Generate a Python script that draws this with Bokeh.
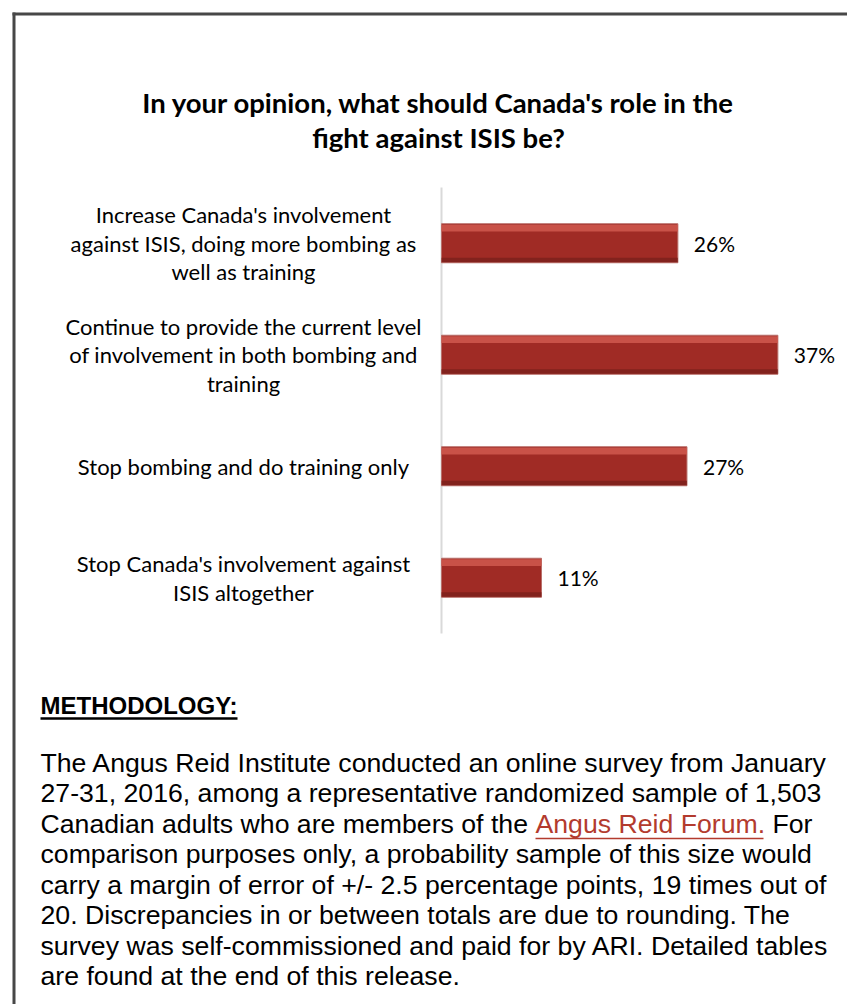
from bokeh.plotting import figure
from bokeh.models import (ColumnDataSource, Range1d, LabelSet, Label)
from bokeh.core.properties import value
from bokeh.transform import dodge
from bokeh.embed import file_html
from bokeh.resources import INLINE

# ---- data ----
categories = [
    "Increase Canada's involvement\nagainst ISIS, doing more bombing as\nwell as training",
    "Continue to provide the current level\nof involvement in both bombing and\ntraining",
    "Stop bombing and do training only",
    "Stop Canada's involvement against\nISIS altogether",
]
values = [26, 37, 27, 11]
value_labels = ["26%", "37%", "27%", "11%"]

title_lines = ["In your opinion, what should Canada's role in the",
               "fight against ISIS be?"]
method_heading = "METHODOLOGY:"
method_lines = [
    "The Angus Reid Institute conducted an online survey from January",
    "27-31, 2016, among a representative randomized sample of 1,503",
    "Canadian adults who are members of the ",
    "comparison purposes only, a probability sample of this size would",
    "carry a margin of error of +/- 2.5 percentage points, 19 times out of",
    "20. Discrepancies in or between totals are due to rounding. The",
    "survey was self-commissioned and paid for by ARI. Detailed tables",
    "are found at the end of this release.",
]
link_text = "Angus Reid Forum."
after_link = "For"

LABEL_FONT = "Lato"
BODY_FONT = "Liberation Sans"

W, H = 847, 1004
AXIS_X = 441          # pixel position of the value axis
PX_PER_UNIT = 400 / 44
ROW_PX = 111.5        # pixel height of one category row
ROW0_PX = 242.75      # pixel centre of first category
LINE_PX = 28.5        # line spacing of category labels

n = len(categories)
src = ColumnDataSource(dict(idx=list(range(n)), cat=categories, val=values,
                            lab=value_labels, zero=[0] * n))

# one row per line of each category label, centred line by line
li_idx, li_text, li_dy = [], [], []
for i, c in enumerate(categories):
    parts = c.split("\n")
    k = len(parts)
    for j, t in enumerate(parts):
        li_idx.append(i)
        li_text.append(t)
        li_dy.append(-(j - (k - 1) / 2) * LINE_PX)
line_src = ColumnDataSource(dict(idx=li_idx, text=li_text, dy=li_dy,
                                 zero=[0] * len(li_idx)))

x_range = Range1d(-AXIS_X / PX_PER_UNIT, (W - AXIS_X) / PX_PER_UNIT)
y_range = Range1d((H - ROW0_PX) / ROW_PX, -ROW0_PX / ROW_PX)

p = figure(width=W, height=H, output_backend="svg", toolbar_location=None,
           x_range=x_range, y_range=y_range, min_border=0)
p.extra_x_ranges = {"px": Range1d(0, W)}
p.extra_y_ranges = {"py": Range1d(H, 0)}
p.axis.visible = False
p.grid.visible = False
p.outline_line_color = None

# value axis line
p.segment(x0=[0], x1=[0], y0=[-0.5], y1=[n - 0.5], line_color="#D9D9D9", line_width=2)

# bars (main body + bevel highlights)
p.hbar(y="idx", left="zero", right="val", height=0.35, source=src,
       fill_color="#A02B25", line_color="#B9706B", line_width=1)
p.hbar(y=dodge("idx", -0.135), left="zero", right="val",
       height=0.06, source=src, fill_color="#D0594F", line_color=None, fill_alpha=0.85)
p.hbar(y=dodge("idx", 0.15), left="zero", right="val",
       height=0.04, source=src, fill_color="#7A201C", line_color=None, fill_alpha=0.8)

# value labels
p.add_layout(LabelSet(x="val", y="idx", text="lab", source=src, x_offset=16,
                      text_baseline="middle", text_align="left",
                      text_font=value(LABEL_FONT), text_font_size="21px", text_color="#000000"))
# category labels
p.add_layout(LabelSet(x="zero", y="idx", text="text", source=line_src, x_offset=-198,
                      y_offset="dy", text_baseline="middle", text_align="center",
                      text_font=value(LABEL_FONT), text_font_size="22px", text_color="#000000"))

# title
for i, t in enumerate(title_lines):
    p.add_layout(Label(x=438, y=102 + 35 * i, text=t, x_range_name="px", y_range_name="py",
                       text_align="center", text_baseline="middle", text_font=LABEL_FONT,
                       text_font_style="bold", text_font_size="27.5px", text_color="#000000"))

# methodology
p.add_layout(Label(x=40, y=705, text=method_heading, x_range_name="px", y_range_name="py",
                   text_align="left", text_baseline="middle", text_font=BODY_FONT,
                   text_font_style="bold", text_font_size="24px", text_color="#000000"))
p.segment(x0=[40], x1=[237], y0=[718], y1=[718], x_range_name="px", y_range_name="py",
          line_color="#000000", line_width=2.5)

for i, t in enumerate(method_lines):
    p.add_layout(Label(x=40, y=762 + 30.5 * i, text=t, x_range_name="px", y_range_name="py",
                       text_align="left", text_baseline="middle", text_font=BODY_FONT,
                       text_font_size="26.67px", text_color="#000000"))
p.add_layout(Label(x=535, y=762 + 30.5 * 2, text=link_text, x_range_name="px", y_range_name="py",
                   text_align="left", text_baseline="middle", text_font=BODY_FONT,
                   text_font_size="26.67px", text_color="#B33B2E"))
p.segment(x0=[535], x1=[763], y0=[838], y1=[838], x_range_name="px", y_range_name="py",
          line_color="#B33B2E", line_width=1.5)
p.add_layout(Label(x=772, y=762 + 30.5 * 2, text=after_link, x_range_name="px", y_range_name="py",
                   text_align="left", text_baseline="middle", text_font=BODY_FONT,
                   text_font_size="26.67px", text_color="#000000"))

# page border (top and left)
p.segment(x0=[12, 13.5], x1=[W, 13.5], y0=[13.5, 12], y1=[13.5, H],
          x_range_name="px", y_range_name="py", line_color="#474747", line_width=3)

open("out.html", "w").write(file_html(p, INLINE))
